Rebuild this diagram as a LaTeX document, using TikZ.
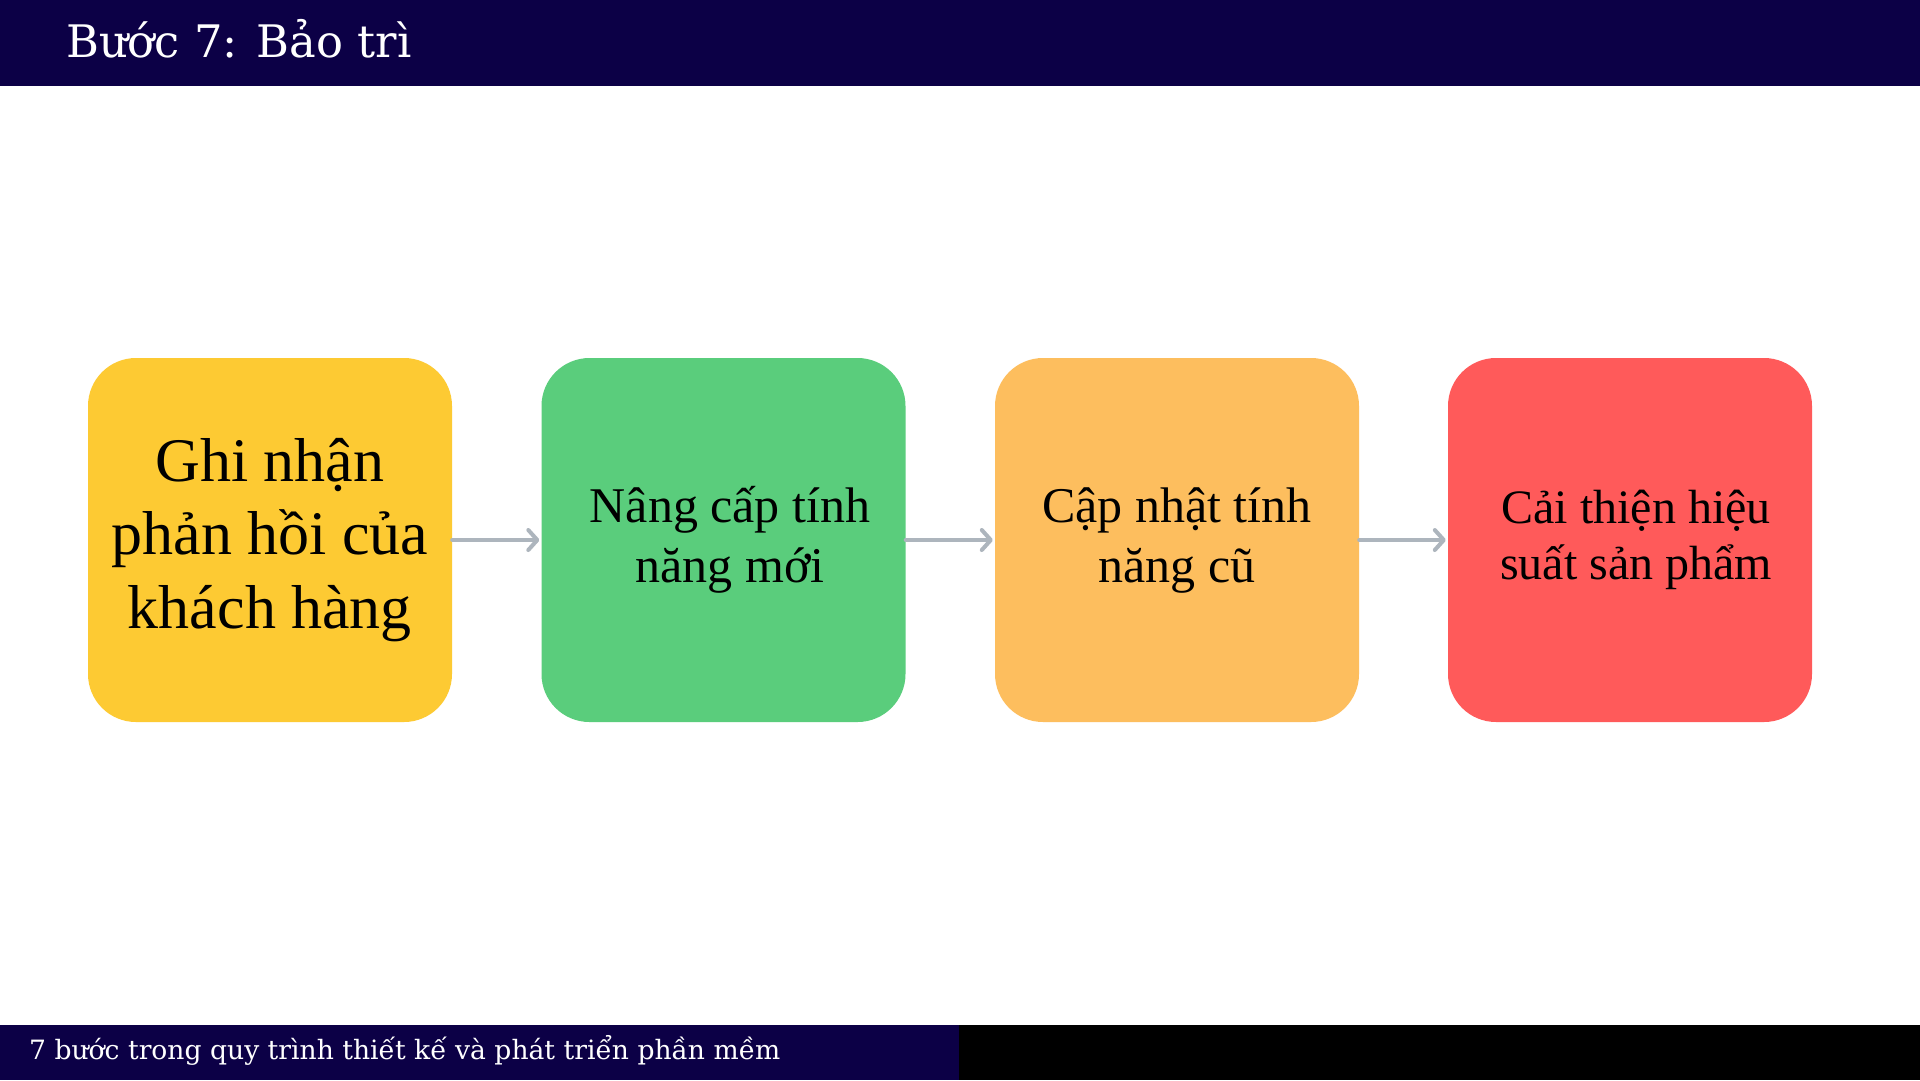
\documentclass[tikz,border=0pt]{standalone}
\usepackage{fontspec}
\setmainfont{DejaVu Serif}
\newfontfamily\boxfont{Liberation Serif}
\usetikzlibrary{arrows.meta}
\definecolor{navy}{HTML}{0C0046}
\definecolor{cyellow}{HTML}{FDCA33}
\definecolor{cgreen}{HTML}{5ACD7C}
\definecolor{corange}{HTML}{FDBE5E}
\definecolor{cred}{HTML}{FF5A5A}
\definecolor{arrowgrey}{HTML}{ADB5BD}
\tikzset{
  stepbox/.style={rectangle, rounded corners=48pt, minimum width=364pt, minimum height=364pt, inner sep=0pt},
  steptext/.style={align=center, text=black, inner sep=0pt},
  flowarrow/.style={draw=arrowgrey, line width=4pt, line cap=round,
    -{Straight Barb[length=9pt,width=20pt,line cap=round,line join=round]}, shorten >=2pt}
}
\begin{document}
\begin{tikzpicture}[x=1pt,y=-1pt]
\useasboundingbox (0,0) rectangle (1920,1080);
\fill[white] (0,0) rectangle (1920,1080);
% header
\fill[navy] (0,0) rectangle (1920,86);
\node[anchor=base west, text=white, inner sep=0pt, font=\fontsize{44.8}{54}\selectfont] (title) at (66,57) {Bước 7: Bảo trì};
% footer
\fill[navy] (0,1025) rectangle (959,1080);
\fill[black] (959,1025) rectangle (1920,1080);
\node[anchor=base west, text=white, inner sep=0pt, font=\fontsize{26.6}{32}\selectfont] (foot) at (29,1059) {7 bước trong quy trình thiết kế và phát triển phần mềm};
% boxes
\node[stepbox, fill=cyellow] (b1) at (270,540) {};
\node[stepbox, fill=cgreen] (b2) at (723.5,540) {};
\node[stepbox, fill=corange] (b3) at (1177,540) {};
\node[stepbox, fill=cred] (b4) at (1630,540) {};
\node[steptext, font=\boxfont\fontsize{62}{73.5}\selectfont] (t1) at (270,540) {Ghi nhận\\phản hồi của\\khách hàng};
\node[steptext, font=\boxfont\fontsize{50}{60}\selectfont] (t2) at (730,540) {Nâng cấp tính\\năng mới};
\node[steptext, font=\boxfont\fontsize{50}{60}\selectfont] (t3) at (1177,540) {Cập nhật tính\\năng cũ};
\node[steptext, font=\boxfont\fontsize{48}{56}\selectfont] (t4) at (1636,540) {Cải thiện hiệu\\suất sản phẩm};
% arrows
\draw[flowarrow] (b1.east) -- (b2.west);
\draw[flowarrow] (b2.east) -- (b3.west);
\draw[flowarrow] (b3.east) -- (b4.west);
\end{tikzpicture}
\end{document}
